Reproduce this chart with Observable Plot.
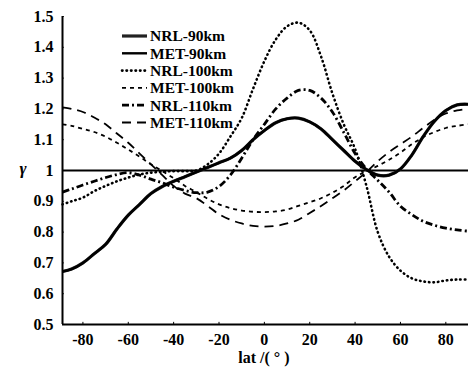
<!DOCTYPE html>
<html><head><meta charset="utf-8">
<script src="https://cdn.jsdelivr.net/npm/d3@7"></script>
<script src="https://cdn.jsdelivr.net/npm/@observablehq/plot@0.6"></script>
<style>body{margin:0;background:#fff} svg{display:block;background:#fff}</style>
</head><body><div id="chart"></div>
<script>
const lats = [-89,-85,-80,-75,-70,-65,-60,-55,-50,-45,-40,-35,-30,-25,-20,-15,-10,-5,0,5,10,15,20,25,30,35,40,45,50,55,60,65,70,75,80,85,90];
const nrl90 = [0.672,0.68,0.70,0.73,0.76,0.81,0.855,0.89,0.925,0.948,0.965,0.98,0.995,1.01,1.025,1.04,1.065,1.10,1.13,1.155,1.168,1.17,1.158,1.135,1.10,1.065,1.03,1.003,0.985,0.985,1.005,1.05,1.11,1.16,1.195,1.213,1.215];
const met90 = [0.672,0.68,0.70,0.73,0.76,0.81,0.855,0.89,0.925,0.948,0.965,0.98,0.995,1.01,1.025,1.04,1.065,1.10,1.13,1.155,1.168,1.17,1.158,1.135,1.10,1.065,1.03,1.003,0.985,0.985,1.005,1.05,1.11,1.16,1.195,1.213,1.215];
const nrl100 = [0.89,0.90,0.912,0.933,0.95,0.965,0.977,0.987,0.993,0.996,0.998,0.998,1.0,1.02,1.055,1.11,1.17,1.265,1.355,1.425,1.468,1.48,1.455,1.37,1.25,1.15,1.07,0.95,0.80,0.72,0.675,0.65,0.64,0.637,0.643,0.646,0.646];
const met100 = [1.15,1.145,1.135,1.125,1.11,1.09,1.068,1.045,1.02,0.998,0.975,0.95,0.93,0.908,0.89,0.878,0.87,0.866,0.865,0.867,0.873,0.885,0.897,0.91,0.928,0.95,0.978,0.998,1.015,1.035,1.058,1.085,1.108,1.125,1.138,1.145,1.15];
const nrl110 = [0.93,0.94,0.953,0.965,0.977,0.987,0.993,0.985,0.972,0.96,0.946,0.935,0.928,0.93,0.948,0.985,1.04,1.10,1.15,1.20,1.235,1.26,1.26,1.235,1.19,1.124,1.055,1.005,0.968,0.93,0.884,0.857,0.835,0.822,0.813,0.807,0.803];
const met110 = [1.205,1.20,1.19,1.172,1.15,1.12,1.09,1.055,1.02,0.985,0.95,0.925,0.91,0.885,0.858,0.84,0.828,0.82,0.818,0.82,0.828,0.84,0.862,0.885,0.91,0.935,0.965,0.995,1.03,1.06,1.085,1.11,1.138,1.165,1.185,1.195,1.20];
const seriesNames = ["NRL-90km","MET-90km","NRL-100km","MET-100km","NRL-110km","MET-110km"];
const xTicks = [-80,-60,-40,-20,0,20,40,60,80];
const yTicks = [0.5,0.6,0.7,0.8,0.9,1,1.1,1.2,1.3,1.4,1.5];

const values = [nrl90, met90, nrl100, met100, nrl110, met110];
const styles = [
  {stroke:"#222", strokeWidth:3.2, strokeDasharray:null, linecap:"butt"},
  {stroke:"#000", strokeWidth:2.4, strokeDasharray:null, linecap:"butt"},
  {stroke:"#000", strokeWidth:2.6, strokeDasharray:"0.5,4", linecap:"round"},
  {stroke:"#000", strokeWidth:1.8, strokeDasharray:"4,4", linecap:"butt"},
  {stroke:"#000", strokeWidth:2.8, strokeDasharray:"7,3,2,3", linecap:"butt"},
  {stroke:"#000", strokeWidth:1.8, strokeDasharray:"9,6", linecap:"butt"}
];
const rows = seriesNames.map((name, k) => lats.map((lat, i) => ({lat, g: values[k][i], name})));

const fmt = d => String(+d.toFixed(1));
const plot = Plot.plot({
  width: 468, height: 369,
  marginLeft: 62, marginRight: 0, marginTop: 16, marginBottom: 45,
  x: {domain: [-89, 90]},
  y: {domain: [0.5, 1.5]},
  style: {fontFamily: "Liberation Serif, serif", fontWeight: "bold", fontSize: "16px", color: "#000", background: "#fff"},
  marks: [
    Plot.axisX({ticks: xTicks, tickSize: 0, tickPadding: 9, tickFormat: d => String(d), label: null}),
    Plot.axisY({ticks: yTicks, tickSize: 0, tickPadding: 9, tickFormat: fmt, label: null}),
    Plot.ruleX(xTicks, {y1: 0.5, y2: 0.507, stroke: "#000", strokeWidth: 1}),
    Plot.ruleY(yTicks, {x1: -89, x2: -88.2, stroke: "#000", strokeWidth: 1}),
    Plot.ruleY([1], {stroke: "#000", strokeWidth: 2}),
    ...rows.map((r, k) => Plot.line(r, {x: "lat", y: "g", curve: "catmull-rom",
      stroke: styles[k].stroke, strokeWidth: styles[k].strokeWidth,
      strokeDasharray: styles[k].strokeDasharray, strokeLinecap: styles[k].linecap})),
    Plot.ruleY([0.5], {stroke: "#000", strokeWidth: 2}),
    Plot.ruleX([-89], {stroke: "#000", strokeWidth: 2})
  ]
});

const svg = d3.select(plot);
const xs = plot.scale("x");
// legend
const lg = svg.append("g").attr("text-anchor", "start");
seriesNames.forEach((name, k) => {
  const y = 36 + k * 17.3;
  lg.append("line").attr("x1", 122).attr("x2", 147).attr("y1", y).attr("y2", y)
    .attr("stroke", styles[k].stroke).attr("stroke-width", styles[k].strokeWidth)
    .attr("stroke-dasharray", styles[k].strokeDasharray).attr("stroke-linecap", styles[k].linecap);
  lg.append("text").attr("x", 150).attr("y", y).attr("dy", "0.35em").attr("text-anchor", "start")
    .attr("font-family", "Liberation Serif, serif").attr("font-weight", "bold").attr("font-size", 15.5)
    .text(name);
});
// axis titles
svg.append("text").attr("x", xs.apply(0)).attr("y", 363).attr("text-anchor", "middle")
  .attr("font-family", "Liberation Serif, serif").attr("font-weight", "bold").attr("font-size", 16)
  .text("lat /( ° )");
svg.append("text").attr("x", 23).attr("y", 168).attr("text-anchor", "middle").attr("dy", "0.35em")
  .attr("font-family", "Liberation Serif, serif").attr("font-style", "italic").attr("font-size", 17)
  .text("γ");
document.getElementById("chart").appendChild(plot);
</script>
</body></html>
